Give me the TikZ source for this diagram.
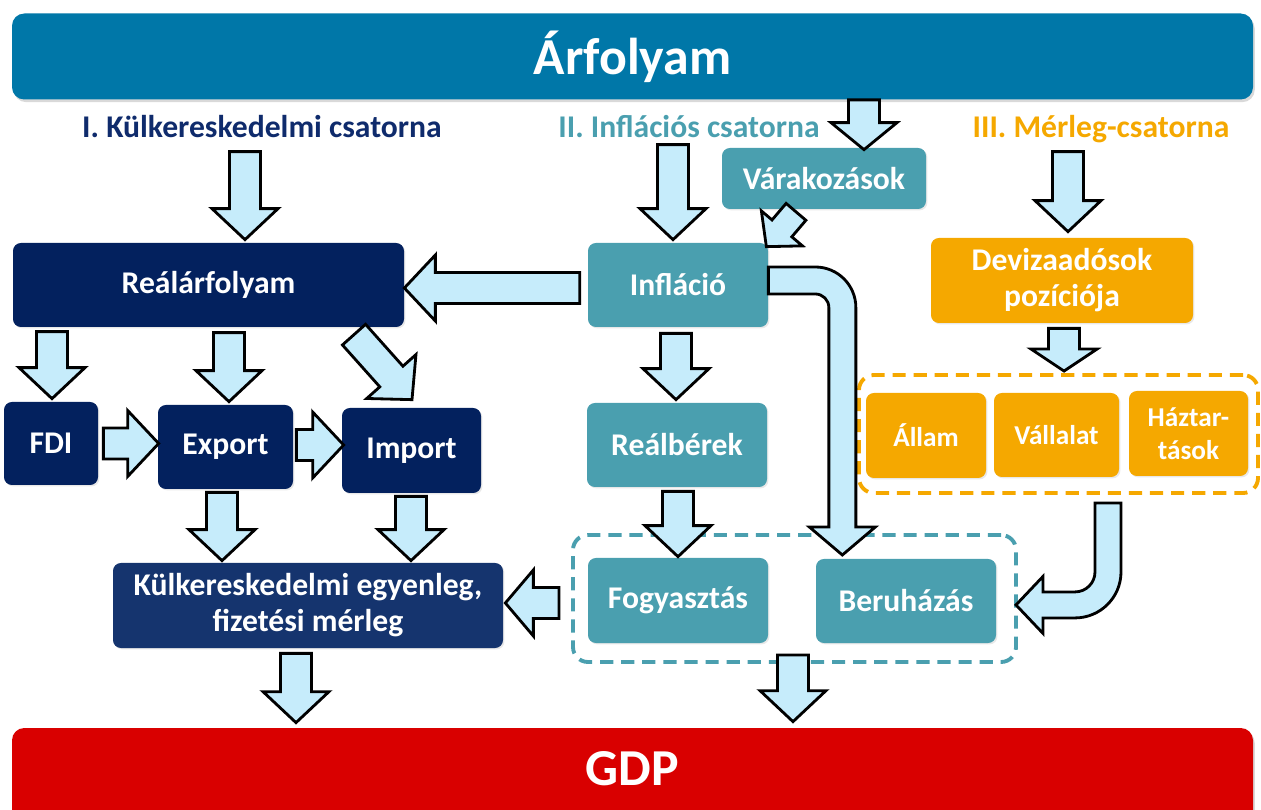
\documentclass[tikz,border=0pt]{standalone}
\usepackage{fontspec}
\setmainfont{Carlito}
\usetikzlibrary{positioning, calc, shadows}

\definecolor{arfblue}{HTML}{0077A8}
\definecolor{kulknavy}{HTML}{03215E}
\definecolor{kulklight}{HTML}{15346E}
\definecolor{kulktxt}{HTML}{0F2B6C}
\definecolor{infteal}{HTML}{4A9FAF}
\definecolor{merlorange}{HTML}{F5A800}
\definecolor{gdpred}{HTML}{D90000}
\definecolor{arrfill}{HTML}{C6ECFB}

% block arrow: shaft half width, head half width, head length
\newcommand{\arrw}{0.31cm}
\newcommand{\arrh}{0.66cm}
\newcommand{\arrl}{0.62cm}
\newcommand{\barr}[3][]{%
  \coordinate (ba) at (#2);
  \coordinate (bb) at (#3);
  \coordinate (bh) at ($(bb)!\arrl!(ba)$);
  \draw[barrow,#1] ($(ba)!\arrw!90:(bb)$) -- ($(bh)!\arrw!90:(bb)$)
    -- ($(bh)!\arrh!90:(bb)$) -- (bb) -- ($(bh)!\arrh!-90:(bb)$)
    -- ($(bh)!\arrw!-90:(bb)$) -- ($(ba)!\arrw!-90:(bb)$) -- cycle;}

\begin{document}
\begin{tikzpicture}[x=0.02cm, y=-0.02cm,
  every node/.style = {align=center, inner sep=0pt},
  sz/.style 2 args = {minimum width=#1*0.02cm, minimum height=#2*0.02cm},
  box/.style = {rounded corners=4.5pt, text=white, font=\bfseries\fontsize{18}{20.5}\selectfont,
    drop shadow={opacity=.18, shadow xshift=.8pt, shadow yshift=-.8pt}},
  kulk/.style = {box, fill=kulknavy},
  inf/.style = {box, fill=infteal},
  merl/.style = {box, fill=merlorange},
  sub/.style = {merl, font=\bfseries\fontsize{15.5}{18.5}\selectfont},
  bar/.style = {rounded corners=7pt, text=white, font=\bfseries\fontsize{29.5}{34}\selectfont,
    drop shadow={opacity=.3, shadow xshift=1pt, shadow yshift=-1.5pt}},
  chan/.style = {font=\bfseries\fontsize{18}{20.5}\selectfont},
  grp/.style = {line width=2.2pt, dash pattern=on 7.5pt off 4.5pt, rounded corners=8.5pt},
  barrow/.style = {draw=black, fill=arrfill, line width=1.6pt, line join=miter}]
  \useasboundingbox (0,0) rectangle (1261,810);
  \clip (0,0) rectangle (1261,810);

  % bars
  \node[bar, fill=arfblue, sz={1241}{86}] (top) at (632.5,56.5) {Árfolyam};
  \node[bar, fill=gdpred, sz={1241}{102}] (gdpbar) at (632.5,779) {};
  \node[text=white, font=\bfseries\fontsize{29.5}{34}\selectfont] (gdp) at (632.5,769) {GDP};

  % channels
  \node[chan, text=kulktxt] (lab1) at (262,127) {I. Külkereskedelmi csatorna};
  \node[chan, text=infteal] (lab2) at (689,127) {II. Inflációs csatorna};
  \node[chan, text=merlorange] (lab3) at (1101,129) {III. Mérleg-csatorna};

  % groups
  \node[grp, draw=infteal, sz={443}{127}] (tealgrp) at (794.5,598.5) {};
  \node[grp, draw=merlorange, sz={399}{118}] (orgrp) at (1058.5,434) {};

  % I.
  \node[kulk, sz={391}{84}] (real) at (208.5,285) {Reálárfolyam};
  \node[kulk, sz={94}{83}] (fdi) at (51,443.5) {FDI};
  \node[kulk, sz={135}{84}] (export) at (225.5,447) {Export};
  \node[kulk, sz={139}{85}] (import) at (411.5,450.5) {Import};
  \node[kulk, fill=kulklight, sz={390}{85}] (kulker) at (308,605.5) {Külkereskedelmi egyenleg,\\fizetési mérleg};

  % II.
  \node[inf, sz={204}{61}] (varak) at (824,178.5) {Várakozások};
  \node[inf, sz={180}{84}] (infl) at (678,285) {Infláció};
  \node[inf, sz={180}{84}] (realb) at (677,445) {Reálbérek};
  \node[inf, sz={180}{85}] (fogy) at (678,600.5) {Fogyasztás};
  \node[inf, sz={180}{84}] (beruh) at (906,601) {Beruházás};

  % III.
  \node[merl, sz={262}{85}] (deviza) at (1062,280.5) {Devizaadósok\\pozíciója};
  \node[sub, sz={120}{85}] (allam) at (926,435.5) {Állam};
  \node[sub, sz={125}{84}] (vall) at (1056.5,435) {Vállalat};
  \node[sub, sz={119}{85}] (haz) at (1188.5,433.5) {Háztar-\\tások};

  % arrows
  \barr{$(real.north)+(36.5,-91)$}{$(real.north)+(36.5,-3)$}
  \barr{$(fdi.north)+(1,-70)$}{$(fdi.north)+(1,-3)$}
  \barr{$(export.north)+(3.5,-72)$}{$(export.north)+(3.5,-3)$}
  \barr{$(import.north)+(-57.5,-73)$}{$(import.north)+(0.5,-8)$}
  \barr{$(fdi.east)+(5,0)$}{$(export.west)+(1,-3.5)$}
  \barr{$(export.east)+(3,-2)$}{$(import.west)+(2,-5.5)$}
  \barr{$(export.south)+(-3.5,3)$}{$(kulker.north)+(-86,-2)$}
  \barr{$(import.south)+(-0.5,3)$}{$(kulker.north)+(103,-2)$}
  \barr{$(kulker.south)+(-12,5)$}{$(gdpbar.north)+(-336.5,-5)$}
  \barr{$(infl.west)+(-8,3)$}{$(real.east)+(0,3)$}
  \barr{$(infl.north)+(-5,-98)$}{$(infl.north)+(-5,-3)$}
  {\renewcommand{\arrl}{0.54cm}
  \barr{$(top.south)+(231.5,0)$}{$(varak.north)+(40,2)$}}
  {\renewcommand{\arrw}{0.26cm}\renewcommand{\arrh}{0.54cm}\renewcommand{\arrl}{0.48cm}
  \barr{$(varak.south)+(-28,2.5)$}{$(infl.north east)+(-2,4)$}}
  \barr{$(infl.south)+(-2,6)$}{$(realb.north)+(-1,-3)$}
  \barr{$(realb.south)+(1,4)$}{$(fogy.north)+(0,-1)$}
  \draw[barrow] ($(infl.east)+(0,-18)$) -- ++(47,0) arc[start angle=-90, end angle=0, radius=40.5]
    -- ++(0,219.5) -- ++(19.5,0) -- ++(-33,28) -- ++(-33,-28) -- ++(19.5,0) -- ++(0,-219.5)
    arc[start angle=0, end angle=-90, radius=13.5] -- ++(-47,0) -- cycle;
  \barr{$(deviza.north)+(6,-86)$}{$(deviza.north)+(6,-6)$}
  {\renewcommand{\arrl}{0.44cm}
  \barr{$(deviza.south)+(2,5)$}{$(orgrp.north)+(5.5,-2)$}}
  \draw[barrow] ($(orgrp.south)+(62.5,8)$) -- ++(0,69) arc[start angle=0, end angle=90, radius=46]
    -- ++(-32,0) -- ++(0,15.5) -- ++(-27,-28.5) -- ++(27,-28.5) -- ++(0,15.5) -- ++(32,0)
    arc[start angle=90, end angle=0, radius=20] -- ++(0,-69) -- cycle;
  {\renewcommand{\arrl}{0.56cm}
  \barr{$(tealgrp.west)+(-12,4.5)$}{$(kulker.east)+(2,-2.5)$}}
  \barr{$(tealgrp.south)+(-1.5,-9)$}{$(gdpbar.north)+(160.5,-6)$}
\end{tikzpicture}
\end{document}
